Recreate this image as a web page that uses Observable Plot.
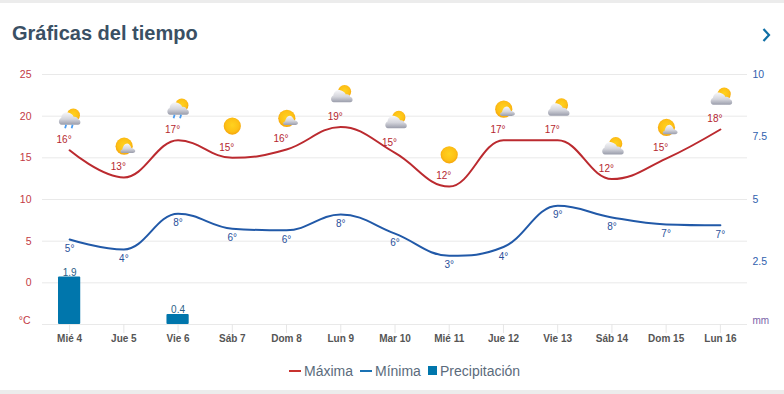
<!DOCTYPE html>
<html><head><meta charset="utf-8">
<script src="https://cdn.jsdelivr.net/npm/d3@7"></script>
<script src="https://cdn.jsdelivr.net/npm/@observablehq/plot@0.6"></script>
<style>
html,body{margin:0;padding:0;background:#fff;overflow:hidden}
body{width:784px;height:394px;position:relative;font-family:"Liberation Sans",Arial,sans-serif}
.band{position:absolute;left:0;width:784px;background:#ececec}
#title{position:absolute;left:12px;top:21px;font-size:20px;line-height:24px;font-weight:bold;color:#3a5064}
#chev{position:absolute;left:762px;top:28px}
#chart{position:absolute;left:0;top:0}
.lg{position:absolute;top:362px;font-size:14px;line-height:18px;color:#5b6b7c;white-space:nowrap}
.sw{position:absolute}
</style></head><body>
<div class="band" style="top:0;height:3px"></div>
<div class="band" style="top:390px;height:4px"></div>
<div id="chart"></div>
<div id="title">Gráficas del tiempo</div>
<svg id="chev" width="10" height="14" viewBox="0 0 10 14"><path d="M1.5 1 L7 7 L1.5 13" fill="none" stroke="#0f6fa5" stroke-width="2.2"/></svg>
<i class="sw" style="left:289px;top:370px;width:12px;height:2px;background:#c8322f"></i><span class="lg" style="left:304px">Máxima</span>
<i class="sw" style="left:360px;top:370px;width:12px;height:2px;background:#1a72b4"></i><span class="lg" style="left:375px">Mínima</span>
<i class="sw" style="left:428px;top:366px;width:9px;height:9px;background:#0076ac"></i><span class="lg" style="left:440px">Precipitación</span>
<script>
const days=["Mié 4","Jue 5","Vie 6","Sáb 7","Dom 8","Lun 9","Mar 10","Mié 11","Jue 12","Vie 13","Sáb 14","Dom 15","Lun 16"];
const maxTemp=[15.9,12.65,17.1,15.0,16.0,18.7,15.6,11.55,17.1,17.1,12.45,14.9,18.4];
const minTemp=[5.2,4.0,8.3,6.5,6.3,8.2,5.9,3.25,4.3,9.25,7.85,7.0,6.9];
const maxLabels=[16,13,17,15,16,19,15,12,17,17,12,15,18];
const minLabels=[5,4,8,6,6,8,6,3,4,9,8,7,7];
const precip=[1.9,0,0.4,0,0,0,0,0,0,0,0,0,0];
const icons=["rain","partly","rain","sun","partly","cloudy","cloudy","sun","partly","cloudy","cloudy","partly","cloudy"];
const leftTicks=[0,5,10,15,20,25];
const rightTicks=[2.5,5,7.5,10];

// icon artwork
const defs=`<defs><radialGradient id="s" cx=".5" cy=".45" r=".55"><stop offset="0" stop-color="#ffd21f"/><stop offset=".7" stop-color="#fdc015"/><stop offset="1" stop-color="#f5a40c"/></radialGradient><linearGradient id="c" x1="0" y1="0" x2="0" y2="1"><stop offset="0" stop-color="#f7f7f9"/><stop offset=".55" stop-color="#d4d5dc"/><stop offset="1" stop-color="#9a9dab"/></linearGradient></defs>`;
const cloudBig=`<path d="M6 20.3 C2.6 20.3 2.4 14.4 5.6 13.6 C5.8 10 9 7.2 12.6 8.2 C15.6 8.8 17.4 10.6 18 12.4 C20.4 12 22.4 13.2 22.4 14.8 C25.4 15.4 25.8 20.3 22.4 20.3 Z" fill="url(#c)"/>`;
const art={
 sun:`<circle cx="13" cy="13.2" r="8.6" fill="url(#s)"/>`,
 partly:`<circle cx="13.3" cy="13.8" r="8.6" fill="url(#s)"/><path d="M11.5 20.6 C9 20.6 9 17.5 11.5 17 C12 14 14 11 16.5 11.2 C18.5 11.5 20 14 20.5 15.5 C23 16 25.5 18 24 19.5 C23.5 20.2 22.5 20.6 21 20.6 Z" fill="url(#c)"/>`,
 cloudy:`<circle cx="16.8" cy="9.6" r="6.6" fill="url(#s)"/>`+cloudBig,
 rain:`<circle cx="16.7" cy="9.8" r="6.6" fill="url(#s)"/><g transform="translate(-1,-1)">`+cloudBig+`</g><path d="M9.5 19.5 L8.5 23 M16 19.5 L15 23" stroke="#4a9cf0" stroke-width="1.8"/>`
};
const uri=k=>"data:image/svg+xml;utf8,"+encodeURIComponent(`<svg xmlns="http://www.w3.org/2000/svg" width="26" height="26" viewBox="0 0 26 26">${defs}${art[k]}</svg>`);

// Spline with the same smoothing rule as the source chart
function Spline(ctx){this._c=ctx}
Spline.prototype={
 areaStart(){},areaEnd(){},
 lineStart(){this._p=[]},
 lineEnd(){
  const p=this._p,n=p.length;if(!n)return;
  const ctl=p.map((q,i)=>{
   if(i===0||i===n-1)return {l:q,r:q};
   const a=p[i-1],b=p[i+1],s=1.5,d=2.5;
   let lx=(s*q[0]+a[0])/d,ly=(s*q[1]+a[1])/d,rx=(s*q[0]+b[0])/d,ry=(s*q[1]+b[1])/d;
   const k=((ry-ly)*(rx-q[0]))/(rx-lx)+q[1]-ry;ly+=k;ry+=k;
   if(ly>a[1]&&ly>q[1]){ly=Math.max(a[1],q[1]);ry=2*q[1]-ly}
   else if(ly<a[1]&&ly<q[1]){ly=Math.min(a[1],q[1]);ry=2*q[1]-ly}
   if(ry>b[1]&&ry>q[1]){ry=Math.max(b[1],q[1]);ly=2*q[1]-ry}
   else if(ry<b[1]&&ry<q[1]){ry=Math.min(b[1],q[1]);ly=2*q[1]-ry}
   return {l:[lx,ly],r:[rx,ry]};
  });
  this._c.moveTo(p[0][0],p[0][1]);
  for(let i=1;i<n;i++)this._c.bezierCurveTo(ctl[i-1].r[0],ctl[i-1].r[1],ctl[i].l[0],ctl[i].l[1],p[i][0],p[i][1]);
 },
 point(x,y){this._p.push([+x,+y])}
};
const spline=c=>new Spline(c);

const rows=days.map((d,i)=>({day:d,max:maxTemp[i],min:minTemp[i],maxL:maxLabels[i]+"°",minL:minLabels[i]+"°",p:precip[i],icon:uri(icons[i])}));
const rain=rows.filter(r=>r.p>0);
// the right axis shares the plot: 0 mm sits at -5 °C, 10 mm at 25 °C
const mm=v=>v*3-5;
const F="Liberation Sans, Arial, sans-serif";
const RED="#bb2a2f",BLUE="#2159a8";

const plot=Plot.plot({
 width:784,height:362,
 marginLeft:42,marginRight:37,marginTop:74,marginBottom:38,
 style:{fontFamily:F,background:"transparent"},
 x:{domain:days,padding:0,align:.5,round:false,axis:null},
 y:{domain:[-5,25],axis:null},
 marks:[
  Plot.ruleY([-5,0,5,10,15,20,25],{stroke:"#e9e9e9",strokeOpacity:1,strokeWidth:1}),
  Plot.axisX({anchor:"bottom",label:null,tickSize:9,tickPadding:1,stroke:"#e6e6e6",strokeOpacity:1,fontSize:10,fontWeight:"bold",fill:"#555"}),
  Plot.text(leftTicks,{y:d=>d,text:d=>String(d),frameAnchor:"left",dx:-11,textAnchor:"end",fill:"#c33a44",fontSize:10.5}),
  Plot.text(["°C"],{y:()=>-4.5,text:d=>d,frameAnchor:"left",dx:-12,textAnchor:"end",fill:"#c33a44",fontSize:10.5}),
  Plot.text(rightTicks,{y:d=>mm(d),text:d=>String(d),frameAnchor:"right",dx:5,textAnchor:"start",fill:"#3161ae",fontSize:10.5}),
  Plot.text(["mm"],{y:()=>-4.5,text:d=>d,frameAnchor:"right",dx:5,textAnchor:"start",fill:"#7a62a8",fontSize:10}),
  Plot.barY(rain,{x:"day",y1:()=>-5,y2:d=>mm(d.p),fill:"#0076ac",insetLeft:16,insetRight:16,rx:1}),
  Plot.line(rows,{x:"day",y:"max",stroke:RED,strokeWidth:2,curve:spline}),
  Plot.line(rows,{x:"day",y:"min",stroke:BLUE,strokeWidth:2,curve:spline}),
  Plot.text(rows,{x:"day",y:"max",text:"maxL",dx:-5.5,dy:-10.5,fill:"#b5272f",fontSize:10}),
  Plot.text(rows,{x:"day",y:"min",text:"minL",dy:9.5,fill:"#29509a",fontSize:10}),
  Plot.text(rain,{x:"day",y:d=>mm(d.p),text:d=>String(d.p),dy:-4.5,fill:"#2c5f86",fontSize:10}),
  Plot.image(rows,{x:"day",y:"max",src:"icon",width:26,height:26,dy:-32})
 ]
});
document.getElementById("chart").append(plot);
</script>
</body></html>
